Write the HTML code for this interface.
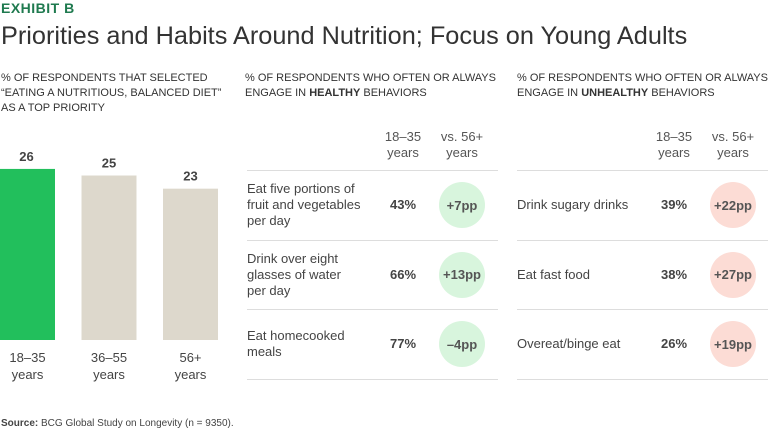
<!DOCTYPE html>
<html><head><meta charset="utf-8"><style>
body{margin:0;width:768px;height:432px;background:#fff;font-family:"Liberation Sans",sans-serif;color:#333;position:relative;overflow:hidden}
.a{position:absolute}
.sub{font-size:11px;line-height:15px;color:#333;white-space:nowrap}
.lbl{font-size:13px;line-height:16px;color:#444}
.hd{font-size:13px;line-height:16px;color:#555;text-align:center}
.v{font-size:13px;font-weight:bold;color:#444;text-align:center;width:50px}
.c{width:46px;height:46px;border-radius:50%;font-size:13px;font-weight:bold;color:#555;display:flex;align-items:center;justify-content:center}
.ln{height:1px;background:#ddd}
</style></head><body>
<div class="a" style="left:1px;top:0;font-size:14px;font-weight:bold;color:#1f7a4f;letter-spacing:0.5px">EXHIBIT B</div>
<div class="a" style="left:1px;top:22px;font-size:25.3px;color:#333">Priorities and Habits Around Nutrition; Focus on Young Adults</div>
<div class="a sub" style="left:1px;top:71px">% OF RESPONDENTS THAT SELECTED<br>“EATING A NUTRITIOUS, BALANCED DIET”<br>AS A TOP PRIORITY</div>
<div class="a sub" style="left:245px;top:71px">% OF RESPONDENTS WHO OFTEN OR ALWAYS<br>ENGAGE IN <b>HEALTHY</b> BEHAVIORS</div>
<div class="a sub" style="left:517px;top:71px">% OF RESPONDENTS WHO OFTEN OR ALWAYS<br>ENGAGE IN <b>UNHEALTHY</b> BEHAVIORS</div>
<svg class="a" style="left:0;top:0" width="240" height="400" id="bars"></svg>
<div id="tables"></div>
<div class="a" style="left:1px;top:418px;font-size:10px;color:#444"><b>Source:</b> BCG Global Study on Longevity (n = 9350).</div>
<script>
const categories=["18–35","36–55","56+"];
const values=[26,25,23];
const barColors=["#22bf5c","#ddd8cc","#ddd8cc"];
const healthyLabels=["Eat five portions of<br>fruit and vegetables<br>per day","Drink over eight<br>glasses of water<br>per day","Eat homecooked<br>meals"];
const healthyValues=["43%","66%","77%"];
const healthyDiffs=["+7pp","+13pp","–4pp"];
const unhealthyLabels=["Drink sugary drinks","Eat fast food","Overeat/binge eat"];
const unhealthyValues=["39%","38%","26%"];
const unhealthyDiffs=["+22pp","+27pp","+19pp"];
const NS="http://www.w3.org/2000/svg";
const svg=document.getElementById('bars');
const base=340,k=6.58,bw=55,step=81.5;
values.forEach((v,i)=>{
 const x=i*step,h=v*k;
 const r=document.createElementNS(NS,'rect');
 r.setAttribute('x',x);r.setAttribute('y',base-h);r.setAttribute('width',bw);r.setAttribute('height',h);r.setAttribute('fill',barColors[i]);
 
 
 svg.appendChild(r);
 const t=document.createElementNS(NS,'text');
 t.setAttribute('x',x+bw/2+(i==0?-1:0));t.setAttribute('y',base-h-8);t.setAttribute('text-anchor','middle');
 t.setAttribute('font-size','13');t.setAttribute('font-weight','bold');t.setAttribute('fill','#444');t.textContent=v;
 
 
 svg.appendChild(t);
 [categories[i],'years'].forEach((s,j)=>{
  const l=document.createElementNS(NS,'text');
  l.setAttribute('x',x+bw/2);l.setAttribute('y',362+j*17);l.setAttribute('text-anchor','middle');
  l.setAttribute('font-size','13');l.setAttribute('fill','#444');l.textContent=s;
  
  
  svg.appendChild(l);
 });
});
const tb=document.getElementById('tables');
function table(x0,vx,cx,labels,vals,diffs,col,name){
 let h='';
 h+=`<div class="a hd" style="left:${vx-30}px;top:129px;width:60px">18–35<br>years</div>`;
 h+=`<div class="a hd" style="left:${cx-35}px;top:129px;width:70px">vs. 56+<br>years</div>`;
 [170,240,309,379].forEach(y=>h+=`<div class="a ln" style="left:${x0}px;top:${y}px;width:251px"></div>`);
 labels.forEach((l,i)=>{
  const cy=205+i*69.5;
  const lines=(l.match(/<br>/g)||[]).length+1;
  h+=`<div class="a lbl" style="left:${x0}px;top:${cy-lines*8}px">${l}</div>`;
  h+=`<div class="a v" style="left:${vx-25}px;top:${cy-8}px">${vals[i]}</div>`;
  h+=`<div class="a c" style="left:${cx-23}px;top:${cy-23}px;background:${col}">${diffs[i]}</div>`;
 });
 tb.insertAdjacentHTML('beforeend',h);
}
table(247,403,462,healthyLabels,healthyValues,healthyDiffs,'#d8f5dd','healthy');
table(517,674,733,unhealthyLabels,unhealthyValues,unhealthyDiffs,'#fcdcd5','unhealthy');
</script>
</body></html>
